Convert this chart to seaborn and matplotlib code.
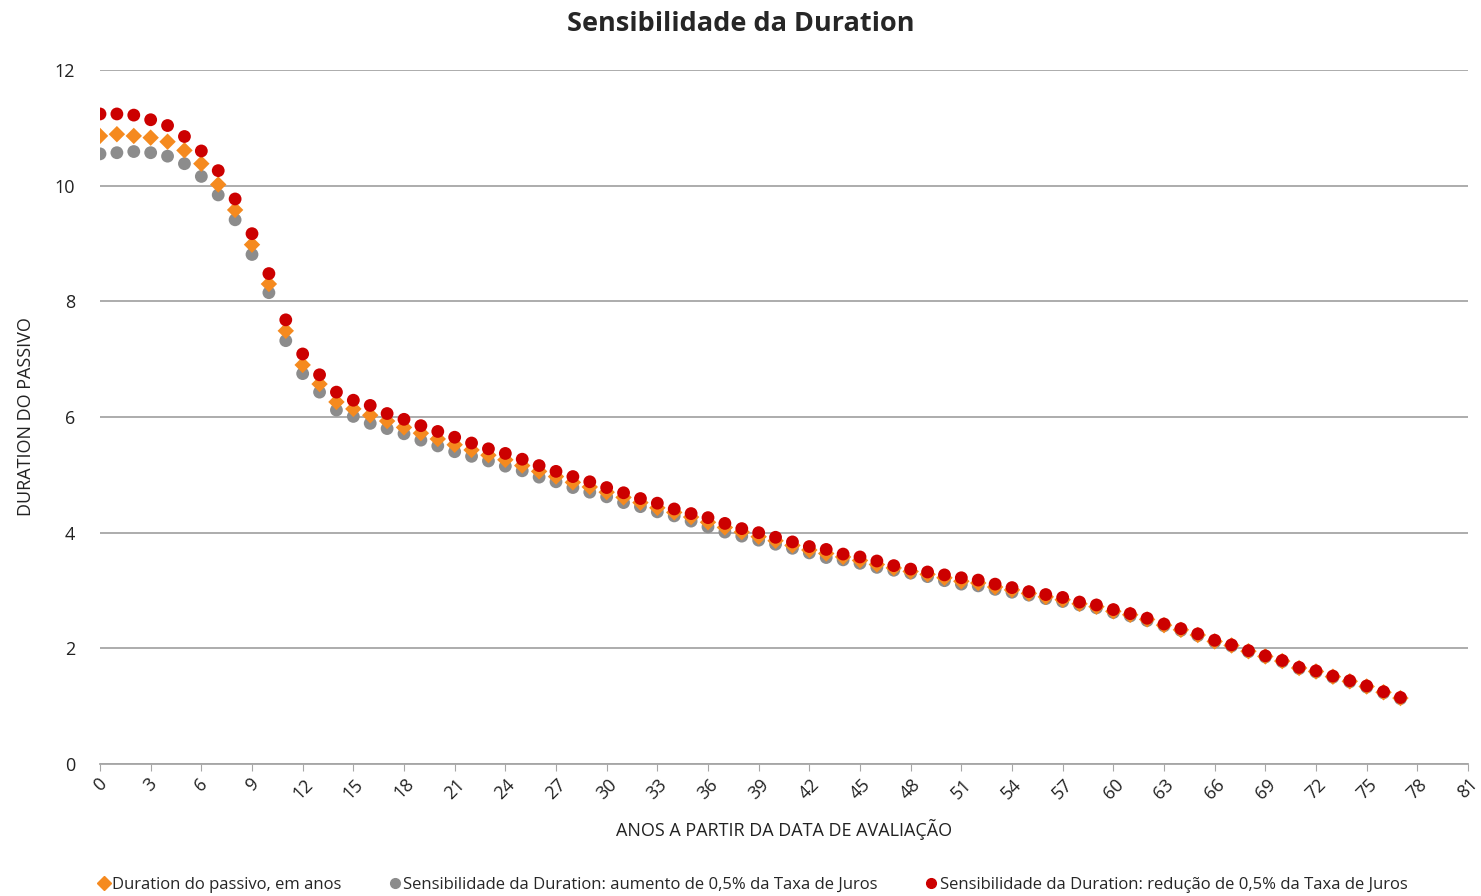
import matplotlib
matplotlib.use("Agg")
import matplotlib.pyplot as plt
from matplotlib.lines import Line2D
import seaborn as sb
import pandas as pd
import numpy as np

anos = list(range(78))

duration = [10.86, 10.89, 10.86, 10.83, 10.76, 10.61, 10.38, 10.02, 9.58, 8.98,
            8.30, 7.49, 6.90, 6.57, 6.26, 6.14, 6.03, 5.93, 5.82, 5.72,
            5.62, 5.52, 5.43, 5.34, 5.26, 5.16, 5.06, 4.97, 4.87, 4.79,
            4.70, 4.61, 4.52, 4.43, 4.35, 4.27, 4.18, 4.09, 4.01, 3.93,
            3.86, 3.78, 3.70, 3.64, 3.58, 3.52, 3.45, 3.39, 3.33, 3.28,
            3.22, 3.16, 3.13, 3.06, 3.01, 2.95, 2.89, 2.84, 2.77, 2.72,
            2.64, 2.58, 2.50, 2.40, 2.32, 2.23, 2.12, 2.05, 1.95, 1.86,
            1.78, 1.66, 1.60, 1.51, 1.43, 1.34, 1.24, 1.14]

aumento = [10.55, 10.57, 10.59, 10.57, 10.51, 10.38, 10.16, 9.84, 9.41, 8.81,
           8.15, 7.32, 6.75, 6.43, 6.12, 6.01, 5.89, 5.80, 5.71, 5.60,
           5.50, 5.40, 5.32, 5.24, 5.15, 5.07, 4.96, 4.88, 4.78, 4.70,
           4.62, 4.52, 4.45, 4.36, 4.29, 4.20, 4.10, 4.01, 3.94, 3.87,
           3.80, 3.73, 3.65, 3.57, 3.53, 3.47, 3.40, 3.35, 3.30, 3.24,
           3.17, 3.11, 3.08, 3.02, 2.97, 2.92, 2.86, 2.81, 2.75, 2.70,
           2.62, 2.56, 2.48, 2.39, 2.31, 2.22, 2.11, 2.04, 1.94, 1.85,
           1.77, 1.65, 1.59, 1.50, 1.42, 1.33, 1.23, 1.13]

reducao = [11.24, 11.24, 11.22, 11.14, 11.04, 10.85, 10.60, 10.26, 9.77, 9.17,
           8.48, 7.68, 7.09, 6.73, 6.43, 6.29, 6.20, 6.06, 5.96, 5.85,
           5.75, 5.65, 5.55, 5.45, 5.37, 5.27, 5.16, 5.06, 4.97, 4.88,
           4.78, 4.69, 4.59, 4.51, 4.41, 4.33, 4.26, 4.16, 4.07, 4.00,
           3.92, 3.84, 3.76, 3.71, 3.63, 3.58, 3.51, 3.43, 3.37, 3.32,
           3.27, 3.22, 3.18, 3.11, 3.05, 2.98, 2.93, 2.88, 2.80, 2.75,
           2.67, 2.60, 2.52, 2.42, 2.34, 2.25, 2.14, 2.06, 1.96, 1.87,
           1.79, 1.67, 1.61, 1.52, 1.44, 1.35, 1.25, 1.15]

labels = ['Duration do passivo, em anos',
          'Sensibilidade da Duration: aumento de 0,5% da Taxa de Juros',
          'Sensibilidade da Duration: redução de 0,5% da Taxa de Juros']
cores = ['#F58A1F', '#8C8C8C', '#CC0000']
markers = ['D', 'o', 'o']

df = pd.DataFrame({'ano': anos, 'duration': duration,
                   'aumento': aumento, 'reducao': reducao})

sb.set_style('white')
plt.rcParams['font.family'] = ['Open Sans', 'DejaVu Sans']

fig = plt.figure(figsize=(14.81, 8.96), dpi=100)
ax = fig.add_axes([100 / 1481, 132 / 896, 1368 / 1481, 694 / 896])

# gray under, orange in the middle, red on top
sb.scatterplot(data=df, x='ano', y='aumento', color=cores[1], marker='o', s=85,
               edgecolor='none', ax=ax, zorder=3)
sb.scatterplot(data=df, x='ano', y='duration', color=cores[0], marker='D', s=70,
               edgecolor='none', ax=ax, zorder=4)
sb.scatterplot(data=df, x='ano', y='reducao', color=cores[2], marker='o', s=85,
               edgecolor='none', ax=ax, zorder=5)

ax.set_xlim(0, 81)
ax.set_ylim(0, 12)
ax.set_xticks(np.arange(0, 82, 3))
ax.set_yticks(np.arange(0, 13, 2))
ax.set_xticklabels([str(v) for v in range(0, 82, 3)], rotation=45, ha='center',
                   va='top', fontsize=13, color='#222222')
ax.set_yticklabels([str(v) for v in range(0, 13, 2)], fontsize=13, color='#222222')
ax.tick_params(axis='x', length=5, color='#A6A6A6', direction='out', pad=3, bottom=True)
ax.tick_params(axis='y', length=0, pad=18)

ax.grid(axis='y', color='#A6A6A6', linewidth=1.3)
ax.grid(axis='x', visible=False)
ax.set_axisbelow(True)
for s in ['top', 'right', 'left']:
    ax.spines[s].set_visible(False)
ax.spines['bottom'].set_color('#A6A6A6')
ax.spines['bottom'].set_linewidth(1.3)

ax.set_xlabel('ANOS A PARTIR DA DATA DE AVALIAÇÃO', fontsize=13, color='#222222', labelpad=12)
ax.set_ylabel('DURATION DO PASSIVO', fontsize=13, color='#222222', labelpad=14)
fig.suptitle('Sensibilidade da Duration', fontsize=19.5, fontweight='bold', y=0.988)

handles = [Line2D([], [], linestyle='none', marker=markers[i], color=cores[i],
                  markersize=7) for i in range(3)]
fig.legend(handles, labels, loc='lower center', ncol=3, frameon=False,
           bbox_to_anchor=(0.508, -0.013), handletextpad=0.1,
           columnspacing=2.8, handlelength=0.8,
           prop={'size': 12})

fig.savefig('out.png', dpi=100)
